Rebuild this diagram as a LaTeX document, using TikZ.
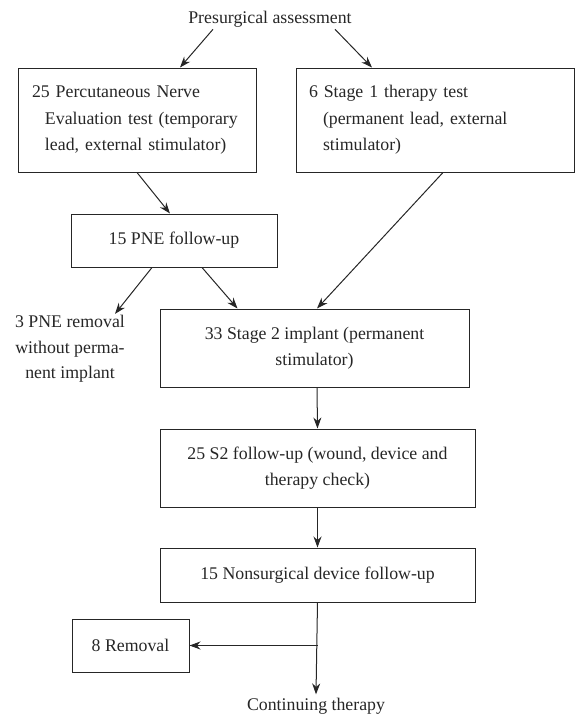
\documentclass[tikz,border=0pt]{standalone}
\usepackage{fontspec}
\setmainfont{Liberation Serif}
\usetikzlibrary{arrows.meta}
\definecolor{ink}{gray}{0.15}

\begin{document}
\begin{tikzpicture}[x=1pt,y=-1pt,
  every node/.style={text=ink,font=\fontsize{17.8}{26.5}\selectfont},
  box/.style={draw=ink,line width=1pt,align=center,inner sep=0pt},
  arr/.style={draw=ink,line width=1pt,-{Stealth[length=11pt,width=8pt]}}]
% Flow of patients from presurgical assessment to continuing therapy
\useasboundingbox (0,0) rectangle (576,718);

\node[inner sep=2pt] (pre) at (270,19) {Presurgical assessment};

\node[box,align=left,text width=210pt,inner xsep=14pt,minimum height=104pt] (pne) at (137,120)
  {25 Percutaneous Nerve\\\hspace*{13pt}Evaluation test (temporary\\\hspace*{13pt}lead, external stimulator)};
\node[box,align=left,text width=252pt,inner xsep=13pt,minimum height=104pt] (st1) at (435,120)
  {6 Stage 1 therapy test\\\hspace*{14pt}(permanent lead, external\\\hspace*{14pt}stimulator)};

\node[box,minimum width=206pt,minimum height=53pt] (pnefu) at (174,240.5) {15 PNE follow-up};
\node[align=center,font=\fontsize{17.8}{25.5}\selectfont] (pnerem) at (70,349)
  {3 PNE removal\\without perma-\\nent implant};
\node[box,minimum width=309pt,minimum height=78pt] (st2) at (314.5,348)
  {33 Stage 2 implant (permanent\\stimulator)};

\node[box,minimum width=315pt,minimum height=78pt] (s2fu) at (317.5,468)
  {25 S2 follow-up (wound, device and\\therapy check)};
\node[box,minimum width=315pt,minimum height=54pt] (nons) at (317.5,575)
  {15 Nonsurgical device follow-up};
\node[box,minimum width=117pt,minimum height=53pt] (rem) at (130.5,645.5) {8 Removal};
\node (cont) at (316,706) {Continuing therapy};

\draw[arr] ([xshift=-57pt]pre.south) -- ([xshift=43pt]pne.north);
\draw[arr] ([xshift=65pt]pre.south) -- ([xshift=-63pt]st1.north);
\draw[arr] (pne.south) -- ([xshift=-4pt]pnefu.north);
\draw[arr] ([xshift=8pt]st1.south) -- ([xshift=2.5pt]st2.north);
\draw[arr] ([xshift=-22pt]pnefu.south) -- ([xshift=45pt,yshift=-2pt]pnerem.north);
\draw[arr] ([xshift=28pt]pnefu.south) -- ([xshift=-77pt]st2.north);
\draw[arr] ([xshift=2.5pt]st2.south) -- (s2fu.north);
\draw[arr] (s2fu) -- (nons);
\draw[arr] (nons.south) -- (cont.north);
\draw[arr] (nons.south |- rem.east) -- (rem.east);
\end{tikzpicture}
\end{document}
